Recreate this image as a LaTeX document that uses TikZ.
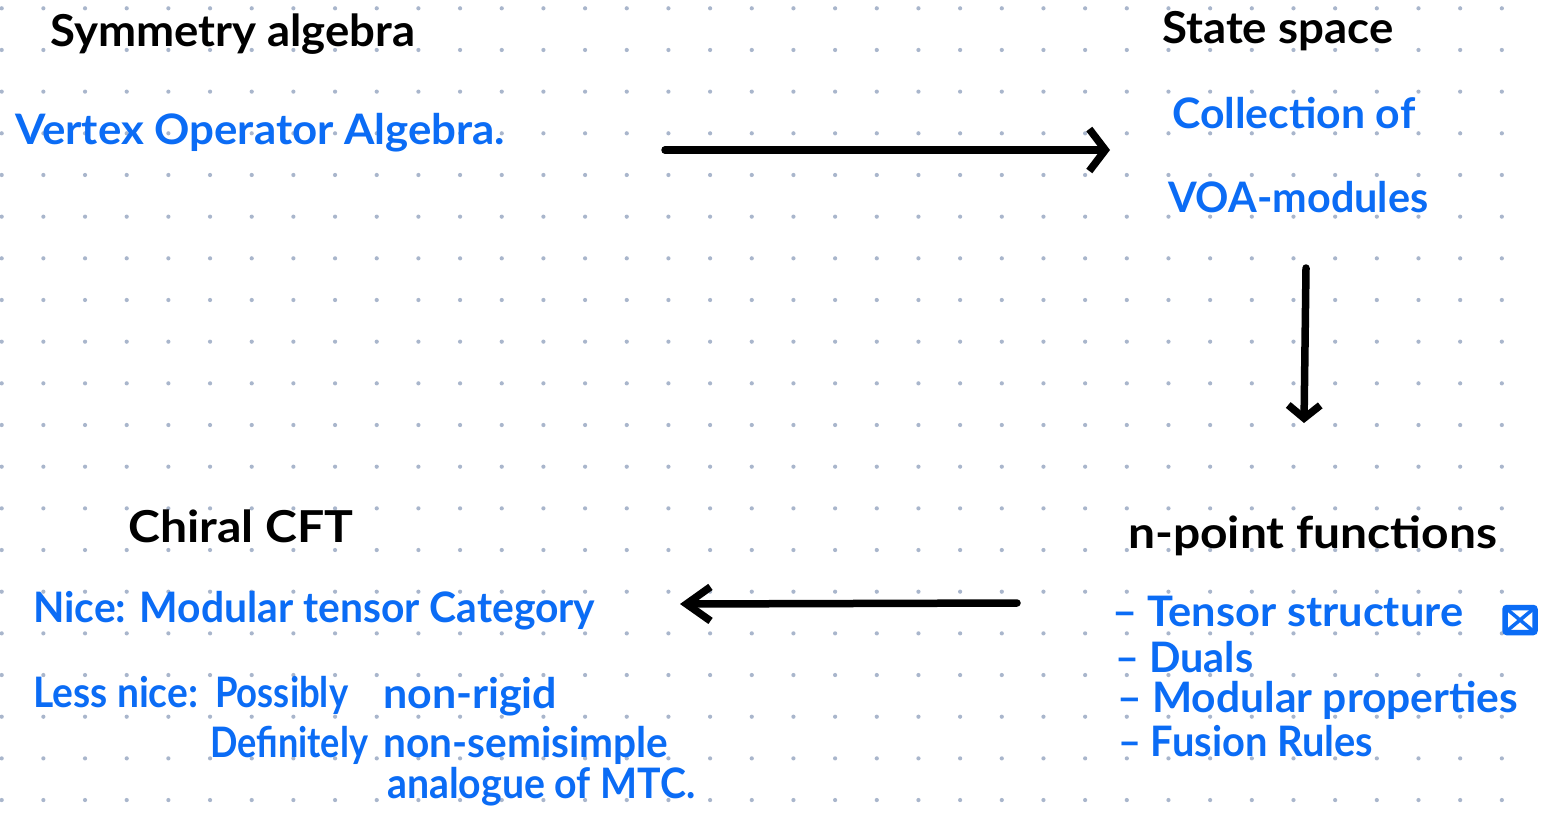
\documentclass[tikz,border=0pt]{standalone}
\usepackage{fontspec}
\setmainfont{Lato}
\usepackage{graphicx}
\usetikzlibrary{arrows.meta}
\definecolor{blu}{HTML}{0B6CF5}
\definecolor{dotc}{HTML}{A9B6CC}
\newcommand\fw[2]{\resizebox{#1pt}{\height}{#2}}
\tikzset{
  head/.style={inner sep=0pt, anchor=base west, text=black, font=\bfseries\fontsize{44}{50}\selectfont},
  body/.style={inner sep=0pt, anchor=base west, text=blu, font=\bfseries\fontsize{42}{48}\selectfont},
  arr/.style={line width=7.5pt, line cap=round, line join=round, black},
}
\begin{document}
\begin{tikzpicture}[x=1pt,y=-1pt]
\fill[white] (0,0) rectangle (1541,815);
\useasboundingbox (0,0) rectangle (1541,815);
% dot grid
\foreach \i in {0,...,36} {
  \foreach \j in {0,...,19} {
    \fill[dotc] ({1.7+41.67*\i},{8.3+41.67*\j}) circle (2.1pt);
  }
}
% headings
\node[head] (sym) at (50,46) {\fw{365}{Symmetry algebra}};
\node[head] (state) at (1162,43) {\fw{231}{State space}};
\node[head] (npt) at (1128,548) {\fw{369}{n-point functions}};
\node[head] (chiral) at (128,542) {\fw{225}{Chiral CFT}};
% blue text
\node[body] (voa) at (15,144) {\fw{490}{Vertex Operator Algebra.}};
\node[body] (coll) at (1172,128) {\fw{243}{Collection of}};
\node[body] (mods) at (1168,212) {\fw{260}{VOA-modules}};
\node[body] (nice) at (33,622) {\fw{562}{Nice: Modular tensor Category}};
\node[body] (less) at (33,707) {\fw{165}{Less nice:}};
\node[body] (poss) at (215,707) {\fw{133}{Possibly}};
\node[body] (nonrig) at (383,708) {\fw{174}{non-rigid}};
\node[body] (defin) at (210,757) {\fw{158}{Definitely}};
\node[body] (nonsemi) at (383,757) {\fw{285}{non-semisimple}};
\node[body] (analog) at (387,798) {\fw{308}{analogue of MTC.}};
\node[body] (b1) at (1112,626) {\fw{351}{– Tensor structure}};
\node[body] (b2) at (1115,672) {\fw{138}{– Duals}};
\node[body] (b3) at (1117,712) {\fw{401}{– Modular properties}};
\node[body] (b4) at (1118,756) {\fw{255}{– Fusion Rules}};
% checkbox
\node[draw=blu, line width=5.5pt, rounded corners=2pt, minimum width=30pt, minimum height=25pt, inner sep=0pt,
  path picture={\draw[blu, line width=3.5pt] (path picture bounding box.north west) -- (path picture bounding box.south east)
  (path picture bounding box.north east) -- (path picture bounding box.south west);}]
  (box) at (1520,620) {};
% arrows
\coordinate (a1s) at (665,150);
\coordinate (a1e) at (1110,150);
\coordinate (a2s) at (1306,268);
\coordinate (a2e) at (1304,423);
\coordinate (a3s) at (1017,603);
\coordinate (a3e) at (680,604);
\draw[arr, -{Straight Barb[length=16pt,width=42pt]}] (a1s) -- (a1e);
\draw[arr, -{Straight Barb[length=13pt,width=32pt]}] (a2s) -- (a2e);
\draw[arr, -{Straight Barb[length=24pt,width=34pt]}] (a3s) -- (a3e);
\end{tikzpicture}
\end{document}
